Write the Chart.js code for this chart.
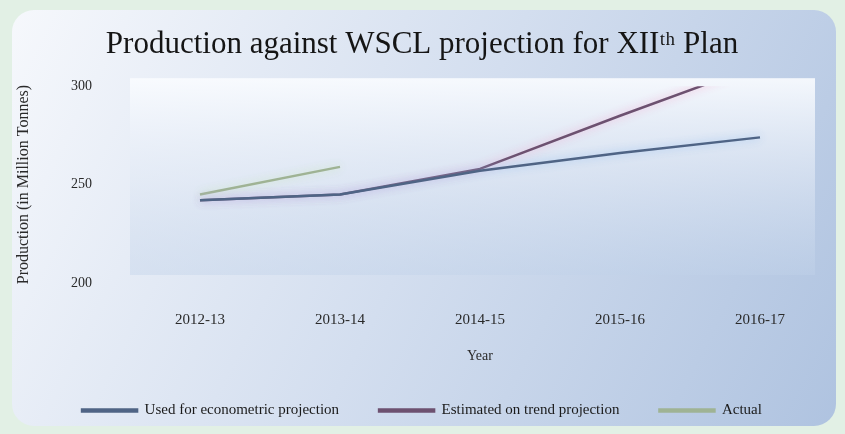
<!DOCTYPE html>
<html>
<head>
<meta charset="utf-8">
<script src="https://cdn.jsdelivr.net/npm/chart.js@4/dist/chart.umd.min.js"></script>
<style>
html,body{margin:0;padding:0;background:#e2f0e5;}
#wrap{width:845px;height:434px;}
</style>
</head>
<body>
<div id="wrap"><canvas id="c" width="845" height="434"></canvas></div>
<script>
const categories = ['2012-13', '2013-14', '2014-15', '2015-16', '2016-17'];
const econometricProjection = [242, 245, 257, 266, 274];
const trendProjection = [242, 245, 258, 285, 311];
const actualProduction = [245, 259, null, null, null];
const yTicks = [200, 250, 300];
const seriesNames = ['Used for econometric projection', 'Estimated on trend projection', 'Actual'];

const bgPlugin = {
  id: 'bg',
  beforeDraw(chart) {
    const ctx = chart.ctx;
    const W = chart.width, H = chart.height;
    ctx.save();
    ctx.fillStyle = '#e2f0e5';
    ctx.fillRect(0, 0, W, H);
    const g = ctx.createLinearGradient(12, 10, 836, 426);
    g.addColorStop(0, '#f6f8fc');
    g.addColorStop(0.5, '#d3deef');
    g.addColorStop(1, '#afc3e0');
    ctx.fillStyle = g;
    ctx.beginPath();
    ctx.roundRect(12, 10, 824, 416, 22);
    ctx.fill();
    const a = chart.chartArea;
    const g2 = ctx.createLinearGradient(0, a.top - 8, 0, a.bottom);
    g2.addColorStop(0, 'rgba(250,252,255,0.9)');
    g2.addColorStop(0.5, 'rgba(225,233,245,0.6)');
    g2.addColorStop(1, 'rgba(190,208,232,0.4)');
    ctx.fillStyle = g2;
    ctx.fillRect(a.left, a.top - 8, a.right - a.left - 15, a.bottom - a.top);
    ctx.restore();
  },
  beforeDatasetDraw(chart, args) {
    const ctx = chart.ctx;
    ctx.save();
    const glows = ['rgba(150,190,240,0.9)', 'rgba(240,170,210,0.9)', 'rgba(200,230,190,0.9)'];
    ctx.shadowColor = glows[args.index];
    ctx.shadowBlur = 8;
  },
  afterDatasetDraw(chart) {
    chart.ctx.restore();
  }
};

const serif = "'Liberation Serif', 'DejaVu Serif', serif";

new Chart(document.getElementById('c'), {
  type: 'line',
  data: {
    labels: categories,
    datasets: [
      { label: seriesNames[0], data: econometricProjection, borderColor: '#4f6485', backgroundColor: '#4f6485', borderWidth: 2.5, pointRadius: 0, tension: 0 },
      { label: seriesNames[1], data: trendProjection, borderColor: '#6d5170', backgroundColor: '#6d5170', borderWidth: 2.5, pointRadius: 0, tension: 0 },
      { label: seriesNames[2], data: actualProduction, borderColor: '#9fb394', backgroundColor: '#9fb394', borderWidth: 2.5, pointRadius: 0, tension: 0, spanGaps: false }
    ]
  },
  options: {
    responsive: false,
    animation: false,
    devicePixelRatio: 1,
    layout: { padding: { left: 14, right: 15, top: 14, bottom: 6 } },
    plugins: {
      title: {
        display: true,
        text: 'Production against WSCL projection for XII\u1d57\u02b0 Plan',
        font: { family: serif, size: 31, weight: 'normal' },
        color: '#151515',
        padding: { top: 12, bottom: 23 }
      },
      legend: {
        position: 'bottom',
        labels: {
          font: { family: serif, size: 15 },
          color: '#1a1a1a',
          boxWidth: 55,
          boxHeight: 2,
          padding: 40
        }
      },
      tooltip: { enabled: false }
    },
    scales: {
      x: {
        offset: true,
        afterFit(scale) { scale.height = 80; },
        grid: { display: false, drawTicks: false },
        border: { display: false },
        ticks: { font: { family: serif, size: 15 }, color: '#2a2a2a', padding: 28 },
        title: { display: true, text: 'Year', font: { family: serif, size: 14 }, color: '#2a2a2a', padding: { top: 0, bottom: -2 } }
      },
      y: {
        min: 200,
        max: 300,
        afterFit(scale) { scale.width = 116; },
        afterBuildTicks(scale) { scale.ticks = yTicks.map(v => ({ value: v })); },
        grid: { display: false, drawTicks: false },
        border: { display: false },
        ticks: { font: { family: serif, size: 14 }, color: '#2a2a2a', padding: 38 },
        title: { display: true, text: 'Production (in Million Tonnes)', font: { family: serif, size: 16 }, color: '#2a2a2a', padding: { top: 0, bottom: 0 } }
      }
    }
  },
  plugins: [bgPlugin]
});
</script>
</body>
</html>
